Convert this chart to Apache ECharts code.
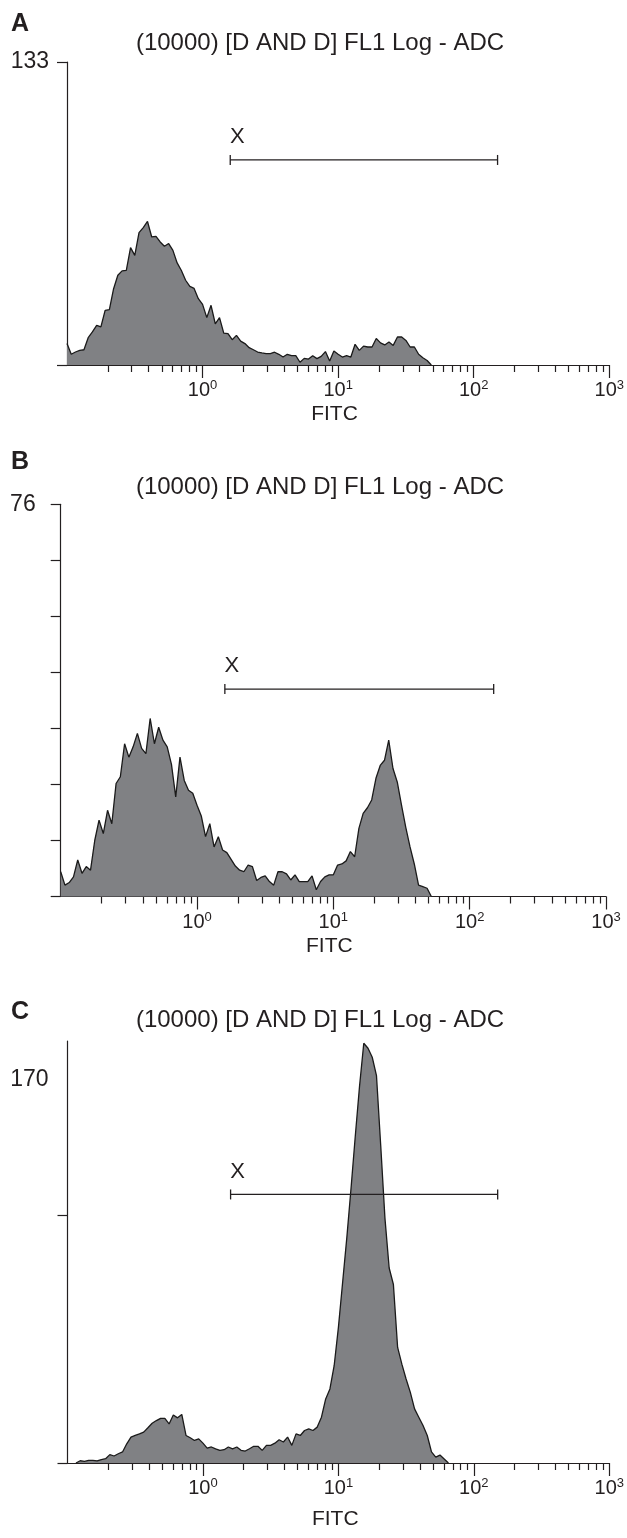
<!DOCTYPE html>
<html><head><meta charset="utf-8">
<script src="https://cdn.jsdelivr.net/npm/echarts@6/dist/echarts.min.js"></script>
<style>html,body{margin:0;padding:0;background:#fff}#c{width:627px;height:1538px}</style>
</head><body><div id="c"></div>
<script>
// ---------- data ----------
const binStart = -1;      // log10(FITC) of channel 0
const binWidth = 1 / 32;  // decades per channel

const countsA = [9.4,4.7,5.7,6.4,6.7,12.0,14.5,17.4,16.7,24.0,24.3,33.5,39.4,41.3,41.5,51.5,48.1,58.1,60.3,63.0,56.2,56.5,54.0,52.1,53.3,50.3,44.8,41.5,37.2,34.5,33.6,29.1,26.6,20.8,26.2,18.1,20.8,14.0,13.8,11.1,13.0,10.5,9.4,7.6,6.7,5.7,5.3,5.0,5.0,5.6,4.7,3.5,4.7,4.1,4.1,1.2,2.9,2.6,4.1,2.8,3.8,5.9,1.8,6.1,4.7,3.5,4.1,3.5,9.1,6.4,8.3,7.9,7.9,11.6,9.7,8.8,10.1,8.6,12.3,12.3,10.8,7.9,7.9,4.7,3.2,2.0,0];
const startA = 0;

const countsB = [4.8,2.2,2.7,3.8,7.1,4.5,5.8,5.1,10.9,14.8,12.2,16.7,14.1,21.9,23.2,29.6,27.0,29.0,31.6,28.7,27.7,34.5,29.6,32.8,30.3,29.0,25.6,19.3,27.0,22.5,20.6,20.0,17.7,15.6,11.6,14.1,9.6,11.6,9.0,8.5,7.2,5.9,5.1,4.8,6.1,5.8,3.1,3.7,4.0,2.9,2.2,4.8,4.8,4.4,3.2,4.2,2.9,2.9,2.9,4.0,1.3,2.9,3.8,4.2,4.2,6.1,6.3,6.9,8.7,7.7,13.2,16.1,17.2,18.7,22.9,25.4,26.4,30.3,24.8,22.2,17.7,13.4,9.6,6.3,2.2,1.9,1.6,0];
const startB = 0;

const countsC = [0,1.0,0.7,1.2,1.2,0.9,1.5,1.9,3.7,3.1,4.1,4.9,8.5,11.5,12.2,12.9,13.7,15.6,17.6,18.8,19.8,19.8,17.3,21.3,20.0,21.5,12.2,11.2,10.0,10.7,8.8,6.6,7.1,6.3,5.6,5.9,7.1,6.3,7.1,5.6,5.3,6.3,7.4,7.4,5.6,7.8,7.8,8.8,10.3,9.3,11.5,7.8,12.9,12.2,14.4,15.1,14.4,15.9,20.3,28.4,32.8,43.1,60,80,100,122,145,167,186,183.8,179.8,171.7,140.8,108.5,86.4,79.1,51.2,43.8,37.2,31.3,24.0,20.3,16.6,12.2,4.9,2.6,3.5,1.8,0];
const startC = 2;

const yMax = [133, 76, 187];
const yTicks = [[0,133], [0,76/7,152/7,228/7,304/7,380/7,456/7,76], [0,110]];
const yLabels = [[133], [76], [170]];
const decadeTicks = [0, 1, 2, 3];           // log10 FITC of 10^0..10^3
const gateRange = [1.6, 150];               // FITC values of gate X
const gateY = [90, 40.2, 119];
const gateName = 'X';
const titleText = '(10000) [D AND D] FL1 Log - ADC';
const panelLetters = ['A', 'B', 'C'];
const xName = 'FITC';

// ---------- layout ----------
const FONT = '"Liberation Sans", Arial, Helvetica, sans-serif';
const INK = '#231f20';
const grids = [
  {left: 67,   right: 610, top: 62,    bottom: 365},
  {left: 60.7, right: 606, top: 504.3, bottom: 896.5},
  {left: 67.5, right: 611, top: 1041,  bottom: 1463}
];
const titleY = [43, 487, 1020];
const letterY = [24, 462, 1012];
const nameY = [414, 946, 1519];
const yLabelMargin = [18, 25, 19];

const minorTicks = [];
for (let n = -1; n < 3; n++) for (let k = 2; k <= 9; k++) minorTicks.push(n + Math.log10(k));

const counts = [countsA, countsB, countsC];
const starts = [startA, startB, startC];

const option = {
  animation: false,
  grid: grids.map(g => ({left: g.left, top: g.top, width: g.right - g.left, height: g.bottom - g.top, containLabel: false})),
  xAxis: [],
  yAxis: [],
  series: [],
  graphic: []
};

grids.forEach((g, p) => {
  option.xAxis.push({
    type: 'value', gridIndex: p, min: -1, max: 3, position: 'bottom',
    axisLine: {show: true, onZero: false, lineStyle: {color: INK, width: 1.2}},
    axisTick: {show: true, customValues: decadeTicks, length: 13, lineStyle: {color: INK, width: 1.2}},
    axisLabel: {
      show: true, customValues: decadeTicks, margin: 14, color: INK,
      formatter: v => '{b|10}{s|' + Math.round(v) + '}',
      rich: {
        b: {fontSize: 20, fontFamily: FONT, color: INK, lineHeight: 23},
        s: {fontSize: 13, fontFamily: FONT, color: INK, lineHeight: 13, verticalAlign: 'top'}
      }
    },
    splitLine: {show: false}
  });
  option.xAxis.push({
    type: 'value', gridIndex: p, min: -1, max: 3, position: 'bottom',
    axisLine: {show: false, onZero: false},
    axisTick: {show: true, customValues: minorTicks, length: 7, lineStyle: {color: INK, width: 1.2}},
    axisLabel: {show: false},
    splitLine: {show: false}
  });
  option.yAxis.push({
    type: 'value', gridIndex: p, min: 0, max: yMax[p], position: 'left',
    axisLine: {show: true, onZero: false, lineStyle: {color: INK, width: 1.2}},
    axisTick: {show: true, customValues: yTicks[p], length: 10, lineStyle: {color: INK, width: 1.2}},
    axisLabel: {show: true, customValues: yLabels[p], margin: yLabelMargin[p], fontSize: 23, fontFamily: FONT, color: INK},
    splitLine: {show: false}
  });
  option.series.push({
    type: 'line', xAxisIndex: 2 * p, yAxisIndex: p,
    data: counts[p].map((v, i) => [binStart + (starts[p] + i) * binWidth, v]),
    showSymbol: false, symbol: 'none',
    lineStyle: {color: '#1a1a1a', width: 1.3},
    areaStyle: {color: '#808184', opacity: 1},
    z: 2
  });
  option.series.push({
    type: 'line', xAxisIndex: 2 * p, yAxisIndex: p,
    data: [
      {value: [Math.log10(gateRange[0]), gateY[p]],
       label: {show: true, formatter: gateName, position: 'top', offset: [7, -2], fontSize: 22, fontFamily: FONT, color: INK}},
      {value: [Math.log10(gateRange[1]), gateY[p]]}
    ],
    symbol: 'rect', symbolSize: [1.3, 10], showSymbol: true,
    itemStyle: {color: INK},
    lineStyle: {color: INK, width: 1.3},
    z: 5
  });
  option.graphic.push({
    type: 'text', x: 320, y: titleY[p],
    style: {text: titleText, font: '24px ' + FONT, fill: INK, align: 'center', verticalAlign: 'middle'}
  });
  option.graphic.push({
    type: 'text', x: 11, y: letterY[p],
    style: {text: panelLetters[p], font: 'bold 25px ' + FONT, fill: INK, align: 'left', verticalAlign: 'middle'}
  });
  option.graphic.push({
    type: 'text', x: (g.left + g.right) / 2 - 4, y: nameY[p],
    style: {text: xName, font: '21px ' + FONT, fill: INK, align: 'center', verticalAlign: 'middle'}
  });
});

const chart = echarts.init(document.getElementById('c'), null, {renderer: 'canvas'});
chart.setOption(option);
</script>
</body></html>
